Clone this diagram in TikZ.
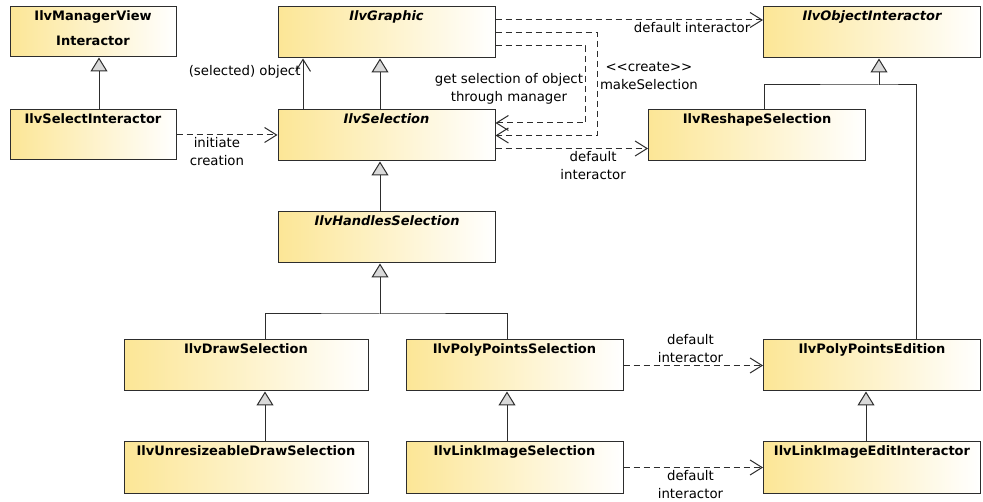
\documentclass[tikz,border=0pt]{standalone}
\usepackage{fontspec}
\setmainfont{DejaVu Sans}
\usetikzlibrary{arrows.meta}
\definecolor{classfill}{RGB}{252,230,150}
\definecolor{umlline}{RGB}{45,45,45}
\tikzstyle{class}=[draw=umlline, line width=1pt, left color=classfill, right color=white,
  minimum width=217pt, minimum height=51pt, inner xsep=0pt, inner ysep=3pt,
  text height=11pt, text depth=34pt, font=\bfseries\fontsize{13}{14}\selectfont]
\tikzstyle{abstract}=[font=\bfseries\itshape\fontsize{13}{14}\selectfont]
\tikzstyle{tree}=[draw=umlline, line width=1pt]
\tikzstyle{extends}=[tree, -{Triangle[length=14pt,width=17pt,fill=black!15]}]
\tikzstyle{navigates}=[tree, -{Straight Barb[length=12pt,width=15pt]}]
\tikzstyle{uses}=[navigates, dash pattern=on 6pt off 4pt]
\tikzstyle{note}=[font=\fontsize{13.3}{18}\selectfont, align=center, inner sep=2pt]

\begin{document}
\begin{tikzpicture}[x=1pt, y=-1pt]
  \useasboundingbox[fill=white] (0,0) rectangle (983,502);

  % classes
  \node[class, minimum width=166pt, minimum height=50pt, text depth=33pt] (viewinter) at (93,32)
    {\begin{tabular}[t]{@{}c@{}}IlvManagerView\\[11pt]Interactor\end{tabular}};
  \node[class, minimum width=166pt, minimum height=50pt, text depth=33pt] (selinter) at (93,135) {IlvSelectInteractor};
  \node[class, abstract] (graphic) at (386.5,32.5) {IlvGraphic};
  \node[class, abstract] (selection) at (386.5,135.5) {IlvSelection};
  \node[class, abstract] (objinter) at (872,32.5) {IlvObjectInteractor};
  \node[class] (reshape) at (757,135.5) {IlvReshapeSelection};
  \node[class, abstract] (handles) at (387,237.5) {IlvHandlesSelection};
  \node[class, minimum width=244pt] (drawsel) at (246,365.5) {IlvDrawSelection};
  \node[class, minimum width=244pt] (unresize) at (246,467.5) {IlvUnresizeableDrawSelection};
  \node[class] (polysel) at (514.5,365.5) {IlvPolyPointsSelection};
  \node[class] (linksel) at (514.5,467.5) {IlvLinkImageSelection};
  \node[class] (polyedit) at (872,365.5) {IlvPolyPointsEdition};
  \node[class] (linkedit) at (872,467.5) {IlvLinkImageEditInteractor};

  \coordinate (hsplit) at (380,314);
  \coordinate (osplit) at (879,85);

  % inheritance
  \draw[extends] ([xshift=6]selinter.north) -- ([xshift=6]viewinter.south);
  \draw[extends] ([xshift=-6.5]selection.north) -- ([xshift=-6.5]graphic.south);
  \draw[extends] ([xshift=-7]handles.north) -- ([xshift=-6.5]selection.south);
  \draw[tree] ([xshift=19]drawsel.north) |- (hsplit) -| ([xshift=-7.5]polysel.north);
  \draw[extends] (hsplit) -- (hsplit |- handles.south);
  \draw[extends] ([xshift=19]unresize.north) -- ([xshift=19]drawsel.south);
  \draw[extends] ([xshift=-7.5]linksel.north) -- ([xshift=-7.5]polysel.south);
  \draw[extends] ([xshift=-6]linkedit.north) -- ([xshift=-6]polyedit.south);
  \draw[tree] ([xshift=7]reshape.north) |- (osplit) -| ([xshift=44]polyedit.north);
  \draw[extends] (osplit) -- (osplit |- objinter.south);

  % associations and dependencies
  \draw[navigates] ([xshift=-83.5]selection.north) -- ([xshift=-83.5]graphic.south)
    node[note, left, pos=0.74] {(selected) object};
  \draw[uses] (selinter.east) -- (selinter.east -| selection.west)
    node[note, below, pos=0.4] {initiate\\creation};
  \draw[uses] ([yshift=12.5]graphic.east) -- ([yshift=12.5]graphic.east -| objinter.west)
    node[note, below, pos=0.735] {default interactor};
  \draw[uses] ([yshift=-0.5]graphic.east) -- ++(102,0) |- (selection.east)
    node[note, right, pos=0.21] {{<}{<}create{>}{>}\\makeSelection};
  \draw[uses] ([yshift=-13.5]graphic.east) -- ++(90,0) |- ([yshift=12.5]selection.east)
    node[note, left, pos=0.28] {get selection of object\\through manager};
  \draw[uses] ([yshift=-13]selection.east) -- ([yshift=-13]selection.east -| reshape.west)
    node[note, below, pos=0.64] {default\\interactor};
  \draw[uses] (polysel.east) -- (polyedit.west)
    node[note, above, pos=0.48] {default\\interactor};
  \draw[uses] (linksel.east) -- (linkedit.west)
    node[note, below, pos=0.48] {default\\interactor};
\end{tikzpicture}
\end{document}
